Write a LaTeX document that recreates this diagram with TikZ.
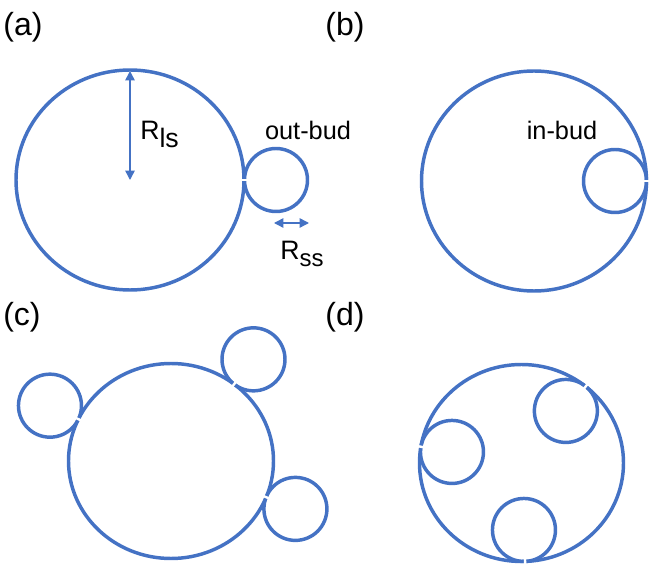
\documentclass[tikz,border=0pt]{standalone}
\usepackage{fontspec}
\setmainfont{Liberation Sans}
\usepackage{xcolor}
\usetikzlibrary{arrows.meta}

\definecolor{membrane}{HTML}{4472C4}

\tikzset{
  vesicle/.style={draw=membrane, line width=2.6pt},
  neckcut/.style={draw=white, line width=1.8pt},
  ruler/.style={draw=membrane, line width=1.1pt, {Triangle[length=7pt,width=7pt]}-{Triangle[length=7pt,width=7pt]}},
  panel/.style={inner sep=0pt, font=\fontsize{24}{28}\selectfont},
  budtag/.style={inner sep=0pt, anchor=base, font=\fontsize{19}{22}\selectfont},
  radius label/.style={inner sep=0pt, anchor=base west, font=\fontsize{20}{24}\selectfont},
}

\begin{document}
\begin{tikzpicture}[x=0.75pt, y=-0.75pt]
  \useasboundingbox (0,0) rectangle (650,566);

  % (a) out-bud
  \node[panel] (tagA) at (23,27) {(a)};
  \begin{scope}[shift={(130,180)}]
    \draw[vesicle] (0,0) ellipse [x radius=114, y radius=110];
    \draw[vesicle] (0:146 and 142) circle [radius=31.5];
    \draw[neckcut] (0:110 and 106) -- (0:118 and 114);
    \coordinate (lsTop) at (0,-109);
    \coordinate (lsCtr) at (0,0);
  \end{scope}
  \draw[ruler] (lsTop) -- (lsCtr);
  \node[radius label] (Rls) at (140,140) {R\raisebox{-6pt}{ls}};
  \node[budtag] (outbud) at (308,140) {out-bud};
  \coordinate (ssL) at (274,223);
  \coordinate (ssR) at (309,223);
  \draw[ruler] (ssL) -- (ssR);
  \node[radius label] (Rss) at (280,260) {R\raisebox{-5pt}{\fontsize{18}{20}\selectfont ss}};

  % (b) in-bud
  \node[panel] (tagB) at (345,27) {(b)};
  \begin{scope}[shift={(534,181)}]
    \draw[vesicle] (0,0) ellipse [x radius=112.5, y radius=110];
    \draw[vesicle] (0:81 and 78.5) circle [radius=31.5];
    \draw[neckcut] (0:108.5 and 106) -- (0:116.5 and 114);
  \end{scope}
  \node[budtag] (inbud) at (562,140) {in-bud};

  % (c) three out-buds
  \node[panel] (tagC) at (22,317) {(c)};
  \begin{scope}[shift={(171,461)}]
    \draw[vesicle] (0,0) ellipse [x radius=102.5, y radius=97.5];
    \foreach \a in {-52,205.4,21.8}{
      \draw[vesicle] (\a:134 and 129) circle [radius=31.5];
      \draw[neckcut] (\a:98.5 and 93.5) -- (\a:106.5 and 101.5);
    }
  \end{scope}

  % (d) three in-buds
  \node[panel] (tagD) at (345,317) {(d)};
  \begin{scope}[shift={(521.5,463)}]
    \draw[vesicle] (0,0) ellipse [x radius=102, y radius=98.5];
    \foreach \a in {-51,189.5,88}{
      \draw[vesicle] (\a:70.5 and 67) circle [radius=31.5];
      \draw[neckcut] (\a:98 and 94.5) -- (\a:106 and 102.5);
    }
  \end{scope}
\end{tikzpicture}
\end{document}
